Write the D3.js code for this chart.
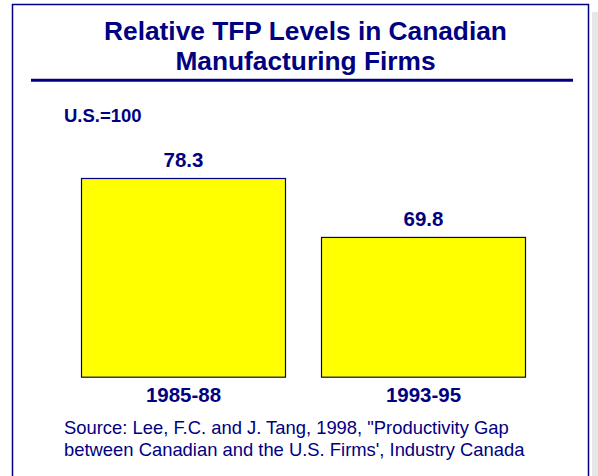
<!DOCTYPE html>
<html>
<head>
<meta charset="utf-8">
<script src="https://cdn.jsdelivr.net/npm/d3@7"></script>
<style>
  html, body { margin: 0; padding: 0; background: #fff; }
  svg { display: block; }
  text { font-family: Arial, "Liberation Sans", sans-serif; fill: #000080; }
</style>
</head>
<body>
<script>
// Relative TFP levels of Canadian manufacturing firms (U.S. = 100)
const periods = ["1985-88", "1993-95"];
const tfpLevels = [78.3, 69.8];
const titleLines = ["Relative TFP Levels in Canadian", "Manufacturing Firms"];
const unitNote = "U.S.=100";
const sourceLines = [
  "Source: Lee, F.C. and J. Tang, 1998, \"Productivity Gap",
  "between Canadian and the U.S. Firms', Industry Canada"
];

const W = 598, H = 476;
const navy = "#000080";

const svg = d3.select("body").append("svg")
  .attr("width", W).attr("height", H);

svg.append("rect").attr("width", W).attr("height", H).attr("fill", "#fff");

// drop shadow strip on the right of the frame
svg.append("rect")
  .attr("x", 592).attr("y", 12).attr("width", 6).attr("height", H)
  .attr("fill", "#e6e6e6");

// slide frame
svg.append("rect")
  .attr("x", 12.5).attr("y", 4.5).attr("width", 576).attr("height", H + 10)
  .attr("fill", "#fff").attr("stroke", navy).attr("stroke-width", 1.5);

// title
svg.append("text")
  .attr("x", 305.5).attr("text-anchor", "middle")
  .attr("font-size", 26.3).attr("font-weight", "bold")
  .selectAll("tspan").data(titleLines).join("tspan")
  .attr("x", 305.5).attr("y", (d, i) => 40 + i * 30)
  .text(d => d);

// rule under the title
svg.append("line")
  .attr("x1", 31).attr("x2", 573).attr("y1", 80.3).attr("y2", 80.3)
  .attr("stroke", navy).attr("stroke-width", 3);

// unit note
svg.append("text")
  .attr("x", 64).attr("y", 121.5)
  .attr("font-size", 18.5).attr("font-weight", "bold")
  .text(unitNote);

// scales
const x = d3.scaleBand()
  .domain(periods)
  .range([63.5, 543.5])
  .paddingInner(35 / 240)
  .paddingOuter(17.5 / 240);

const baseValue = 49.5;
const y = d3.scaleLinear()
  .domain([baseValue, 78.3])
  .range([377.7, 178]);

const data = periods.map((p, i) => ({ period: p, value: tfpLevels[i] }));

// bars
svg.append("g").selectAll("rect").data(data).join("rect")
  .attr("x", d => x(d.period) + 0.5)
  .attr("y", d => y(d.value) + 0.5)
  .attr("width", x.bandwidth() - 1)
  .attr("height", d => y(baseValue) - y(d.value) - 1)
  .attr("fill", "#ffff00")
  .attr("stroke", navy)
  .attr("stroke-width", 1.2);

// value labels
svg.append("g").selectAll("text").data(data).join("text")
  .attr("x", d => x(d.period) + x.bandwidth() / 2)
  .attr("y", d => y(d.value) - 11)
  .attr("text-anchor", "middle")
  .attr("font-size", 20.5).attr("font-weight", "bold")
  .text(d => d.value.toFixed(1));

// category labels
svg.append("g").selectAll("text").data(data).join("text")
  .attr("x", d => x(d.period) + x.bandwidth() / 2)
  .attr("y", y(baseValue) + 24)
  .attr("text-anchor", "middle")
  .attr("font-size", 20.5).attr("font-weight", "bold")
  .text(d => d.period);

// source note
svg.append("text")
  .attr("font-size", 18.4)
  .selectAll("tspan").data(sourceLines).join("tspan")
  .attr("x", 64).attr("y", (d, i) => 434 + i * 22)
  .text(d => d);
</script>
</body>
</html>
